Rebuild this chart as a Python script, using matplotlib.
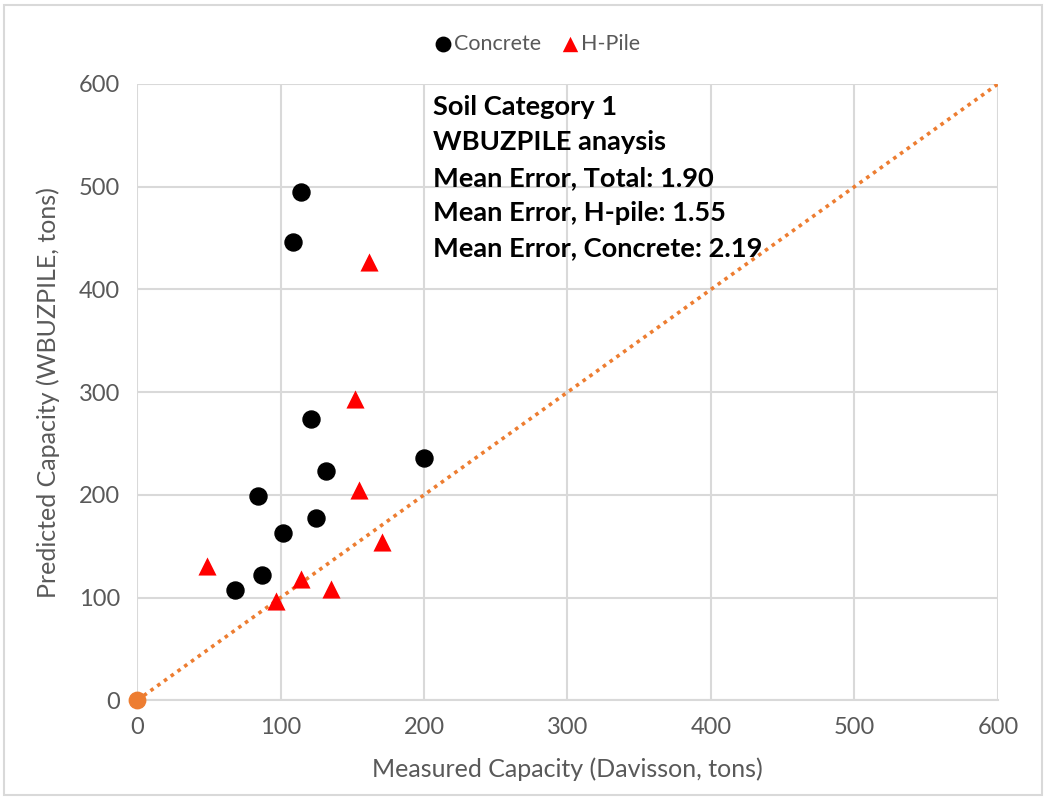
import matplotlib
matplotlib.use("Agg")
import matplotlib.pyplot as plt
from matplotlib.patches import Rectangle

plt.rcParams['font.family'] = ['Lato', 'DejaVu Sans']

# Data
concrete_x = [114, 109, 121, 132, 200, 84, 102, 125, 87, 68]
concrete_y = [495, 446, 274, 223, 236, 199, 163, 178, 122, 107]
hpile_x = [162, 152, 155, 171, 49, 114, 135, 97]
hpile_y = [427, 293, 205, 154, 131, 118, 108, 97]
ref_x = [0, 600]
ref_y = [0, 600]
origin_x = [0]
origin_y = [0]
xticks = [0, 100, 200, 300, 400, 500, 600]
yticks = [0, 100, 200, 300, 400, 500, 600]
annotation = ["Soil Category 1", "WBUZPILE anaysis", "Mean Error, Total: 1.90",
              "Mean Error, H-pile: 1.55", "Mean Error, Concrete: 2.19"]

fig = plt.figure(figsize=(10.46, 8), dpi=100)
ax = fig.add_axes([0.131, 0.1245, 0.823, 0.7705])

grid_c = '#D9D9D9'
text_c = '#595959'

ax.plot(ref_x, ref_y, linestyle=(0, (1, 1.3)), color='#ED7D31', linewidth=2.6, zorder=2)
ax.scatter(origin_x, origin_y, s=140, color='#ED7D31', zorder=3, clip_on=False)
ax.scatter(concrete_x, concrete_y, s=150, color='black', marker='o', zorder=4, label='Concrete')
ax.scatter(hpile_x, hpile_y, s=170, color='red', marker='^', zorder=4, label='H-Pile', linewidths=0)

ax.set_xlim(0, 600)
ax.set_ylim(0, 600)
ax.set_xticks(xticks)
ax.set_yticks(yticks)
ax.grid(True, color=grid_c, linewidth=1.5)
ax.set_axisbelow(True)
for s in ['top', 'right', 'left']:
    ax.spines[s].set_visible(False)
ax.spines['bottom'].set_color(grid_c)
ax.spines['bottom'].set_linewidth(1.5)
ax.tick_params(length=0, labelsize=17, colors=text_c, pad=12)

ax.set_xlabel('Measured Capacity (Davisson, tons)', fontsize=18, color=text_c, labelpad=14)
ax.set_ylabel('Predicted Capacity (WBUZPILE, tons)', fontsize=18, color=text_c, labelpad=14)

for i, line in enumerate(annotation):
    ax.text(0.344, 0.963 - i * 0.0575, line, transform=ax.transAxes, fontsize=19.6,
            fontweight='bold', color='black', va='center', ha='left')

leg = fig.legend(handles=ax.collections[1:], loc='center', bbox_to_anchor=(0.513, 0.945),
                 ncol=2, frameon=False, fontsize=15.5, handletextpad=0.05, columnspacing=0.9,
                 handlelength=0.9, markerscale=0.85, labelcolor=text_c)

fig.patches.append(Rectangle((0.004, 0.006), 0.992, 0.988, transform=fig.transFigure,
                             fill=False, edgecolor='#D9D9D9', linewidth=1.5))

fig.savefig('out.png', dpi=100, facecolor='white')
